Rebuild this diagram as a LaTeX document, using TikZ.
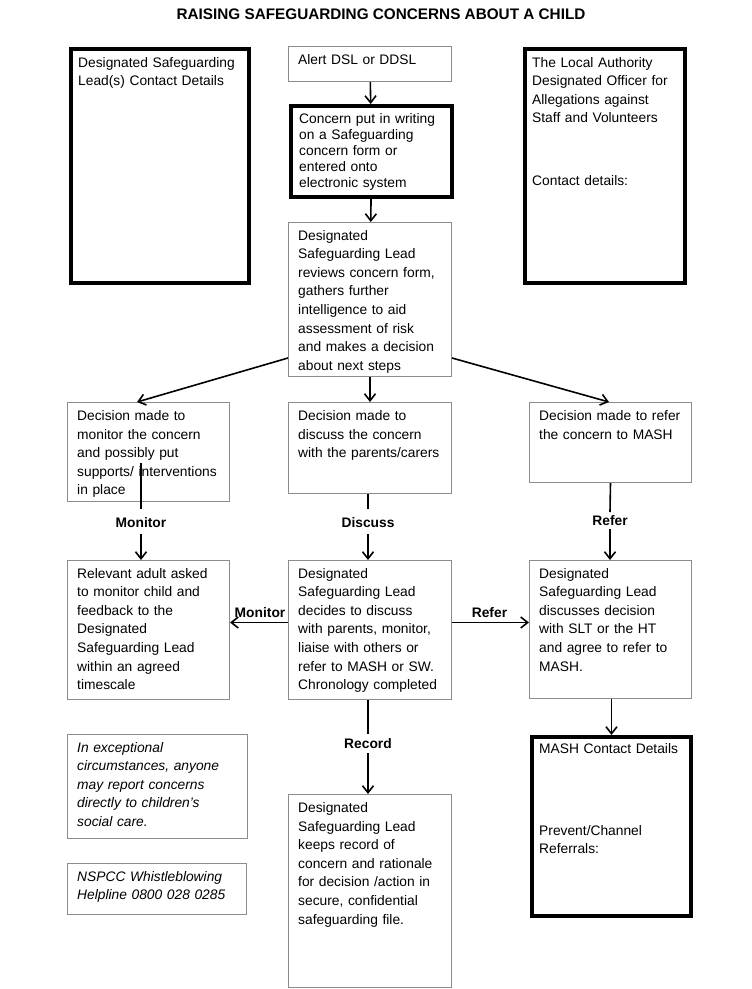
\documentclass[tikz,border=0pt]{standalone}
\usepackage{fontspec}
\setmainfont{Liberation Sans}
\usetikzlibrary{arrows.meta}
\definecolor{boxgray}{RGB}{140,140,140}
\tikzset{
 thinbox/.style={draw=boxgray, line width=1pt, inner sep=0pt},
 thickbox/.style={draw=black, line width=4pt, inner sep=0pt},
 txt/.style={inner sep=0pt, align=left, text width=175pt, font=\fontsize{13.8}{18.6}\selectfont},
 ctxt/.style={txt, font=\fontsize{13.8}{16.1}\selectfont},
 itxt/.style={txt, font=\fontsize{13.8}{18.6}\selectfont\itshape},
 lbl/.style={inner sep=0pt, font=\bfseries\fontsize{13.8}{16}\selectfont},
 arr/.style={line width=1.6pt, -{Straight Barb[length=7pt,width=11pt]}},
 ln/.style={line width=1.6pt},
}
\begin{document}
\begin{tikzpicture}[x=1pt,y=-1pt]
\useasboundingbox (0,0) rectangle (752,989);
% title
\node[inner sep=0pt, anchor=base, font=\bfseries\fontsize{15.3}{18}\selectfont] (title) at (381,19.5) {RAISING SAFEGUARDING CONCERNS ABOUT A CHILD};

% thick boxes
\node[thickbox, anchor=north west, minimum width=178pt, minimum height=234pt] (dsl) at (69,47) {};
\node[txt, anchor=base west] (dsl-t) at (78,67) {Designated Safeguarding\\Lead(s) Contact Details};

\node[thickbox, anchor=north west, minimum width=161pt, minimum height=91pt] (concern) at (289,104) {};
\node[ctxt, anchor=base west] (concern-t) at (299,123.3) {Concern put in writing\\on a Safeguarding\\concern form or\\entered onto\\electronic system};

\node[thickbox, anchor=north west, minimum width=160pt, minimum height=234pt] (lado) at (523,47) {};
\node[txt, anchor=base west] (lado-t) at (532,67) {The Local Authority\\Designated Officer for\\Allegations against\\Staff and Volunteers\\[44.1pt]Contact details:};

\node[thickbox, anchor=north west, minimum width=159pt, minimum height=179pt] (mash) at (530,735) {};
\node[txt, anchor=base west] (mash-t) at (539,753.3) {MASH Contact Details\\[63.1pt]Prevent/Channel\\Referrals:};

% thin boxes
\node[thinbox, anchor=north west, minimum width=163pt, minimum height=35pt] (alert) at (288,46) {};
\node[txt, anchor=base west] (alert-t) at (298,64) {Alert DSL or DDSL};

\node[thinbox, anchor=north west, minimum width=163pt, minimum height=154pt] (reviews) at (288,222) {};
\node[txt, anchor=base west] (reviews-t) at (298,240) {Designated\\Safeguarding Lead\\reviews concern form,\\gathers further\\intelligence to aid\\assessment of risk\\and makes a decision\\about next steps};

\node[thinbox, anchor=north west, minimum width=162pt, minimum height=99pt] (mondec) at (67,402) {};
\node[txt, anchor=base west] (mondec-t) at (77,420.5) {Decision made to\\monitor the concern\\and possibly put\\supports/ interventions\\in place};

\node[thinbox, anchor=north west, minimum width=163pt, minimum height=91pt] (discdec) at (288,402) {};
\node[txt, anchor=base west] (discdec-t) at (298,420.5) {Decision made to\\discuss the concern\\with the parents/carers};

\node[thinbox, anchor=north west, minimum width=162pt, minimum height=80pt] (refdec) at (529,402) {};
\node[txt, anchor=base west] (refdec-t) at (539,420.5) {Decision made to refer\\the concern to MASH};

\node[thinbox, anchor=north west, minimum width=162pt, minimum height=139pt] (relevant) at (67,560) {};
\node[txt, anchor=base west] (relevant-t) at (77,578) {Relevant adult asked\\to monitor child and\\feedback to the\\Designated\\Safeguarding Lead\\within an agreed\\timescale};

\node[thinbox, anchor=north west, minimum width=163pt, minimum height=139pt] (decides) at (288,560) {};
\node[txt, anchor=base west] (decides-t) at (298,578) {Designated\\Safeguarding Lead\\decides to discuss\\with parents, monitor,\\liaise with others or\\refer to MASH or SW.\\Chronology completed};

\node[thinbox, anchor=north west, minimum width=162pt, minimum height=138pt] (discusses) at (529,560) {};
\node[txt, anchor=base west] (discusses-t) at (539,578) {Designated\\Safeguarding Lead\\discusses decision\\with SLT or the HT\\and agree to refer to\\MASH.};

\node[thinbox, anchor=north west, minimum width=180pt, minimum height=104pt] (except) at (67,734) {};
\node[itxt, anchor=base west] (except-t) at (77,752) {In exceptional\\circumstances, anyone\\may report concerns\\directly to children’s\\social care.};

\node[thinbox, anchor=north west, minimum width=179pt, minimum height=51pt] (nspcc) at (67,863) {};
\node[itxt, anchor=base west] (nspcc-t) at (77,881) {NSPCC Whistleblowing\\Helpline 0800 028 0285};

\node[thinbox, anchor=north west, minimum width=163pt, minimum height=193pt] (record) at (288,794) {};
\node[txt, anchor=base west] (record-t) at (298,812.5) {Designated\\Safeguarding Lead\\keeps record of\\concern and rationale\\for decision /action in\\secure, confidential\\safeguarding file.};

% connectors top
\draw[arr] (alert) -- (concern);
\draw[arr] (concern) -- (reviews);
\draw[arr] ([yshift=19pt]reviews.south west) -- ([xshift=70pt]mondec.north west);
\draw[arr] (reviews) -- (discdec);
\draw[arr] ([yshift=19pt]reviews.south east) -- ([xshift=80pt]refdec.north west);

% monitor branch
\node[lbl] (monlab) at (141,523) {Monitor};
\coordinate (monstart) at (141,463);
\draw[ln] (monstart) -- ([yshift=14pt]monlab.center);
\draw[arr] ([yshift=-11pt]monlab.center) -- (monlab.center |- relevant.north);

% discuss branch
\node[lbl] (disclab) at (368,523) {Discuss};
\draw[ln] (discdec.south -| disclab) -- ([yshift=14pt]disclab.center);
\draw[arr] ([yshift=-11pt]disclab.center) -- (disclab.center |- decides.north);

% refer branch
\node[lbl] (reflab) at (610,521) {Refer};
\draw[ln] (refdec.south) -- ([yshift=9pt]reflab.center);
\draw[arr] ([yshift=-8pt]reflab.center) -- (reflab.center |- discusses.north);

% horizontal
\draw[arr] ([yshift=7.5pt]decides.west) -- ([yshift=7.5pt]decides.west -| relevant.east);
\node[lbl] (monlab2) at (260,613) {Monitor};
\draw[arr] ([yshift=7.5pt]decides.east) -- ([yshift=7.5pt]decides.east -| discusses.west);
\node[lbl] (reflab2) at (489.5,613) {Refer};

% record
\node[lbl] (reclab) at (368,744) {Record};
\draw[ln] (decides.south -| reclab) -- ([yshift=10pt]reclab.center);
\draw[arr] ([yshift=-9pt]reclab.center) -- (reclab.center |- record.north);

% to MASH
\draw[arr] (discusses.south -| mash.north) -- (mash.north);
\end{tikzpicture}
\end{document}
